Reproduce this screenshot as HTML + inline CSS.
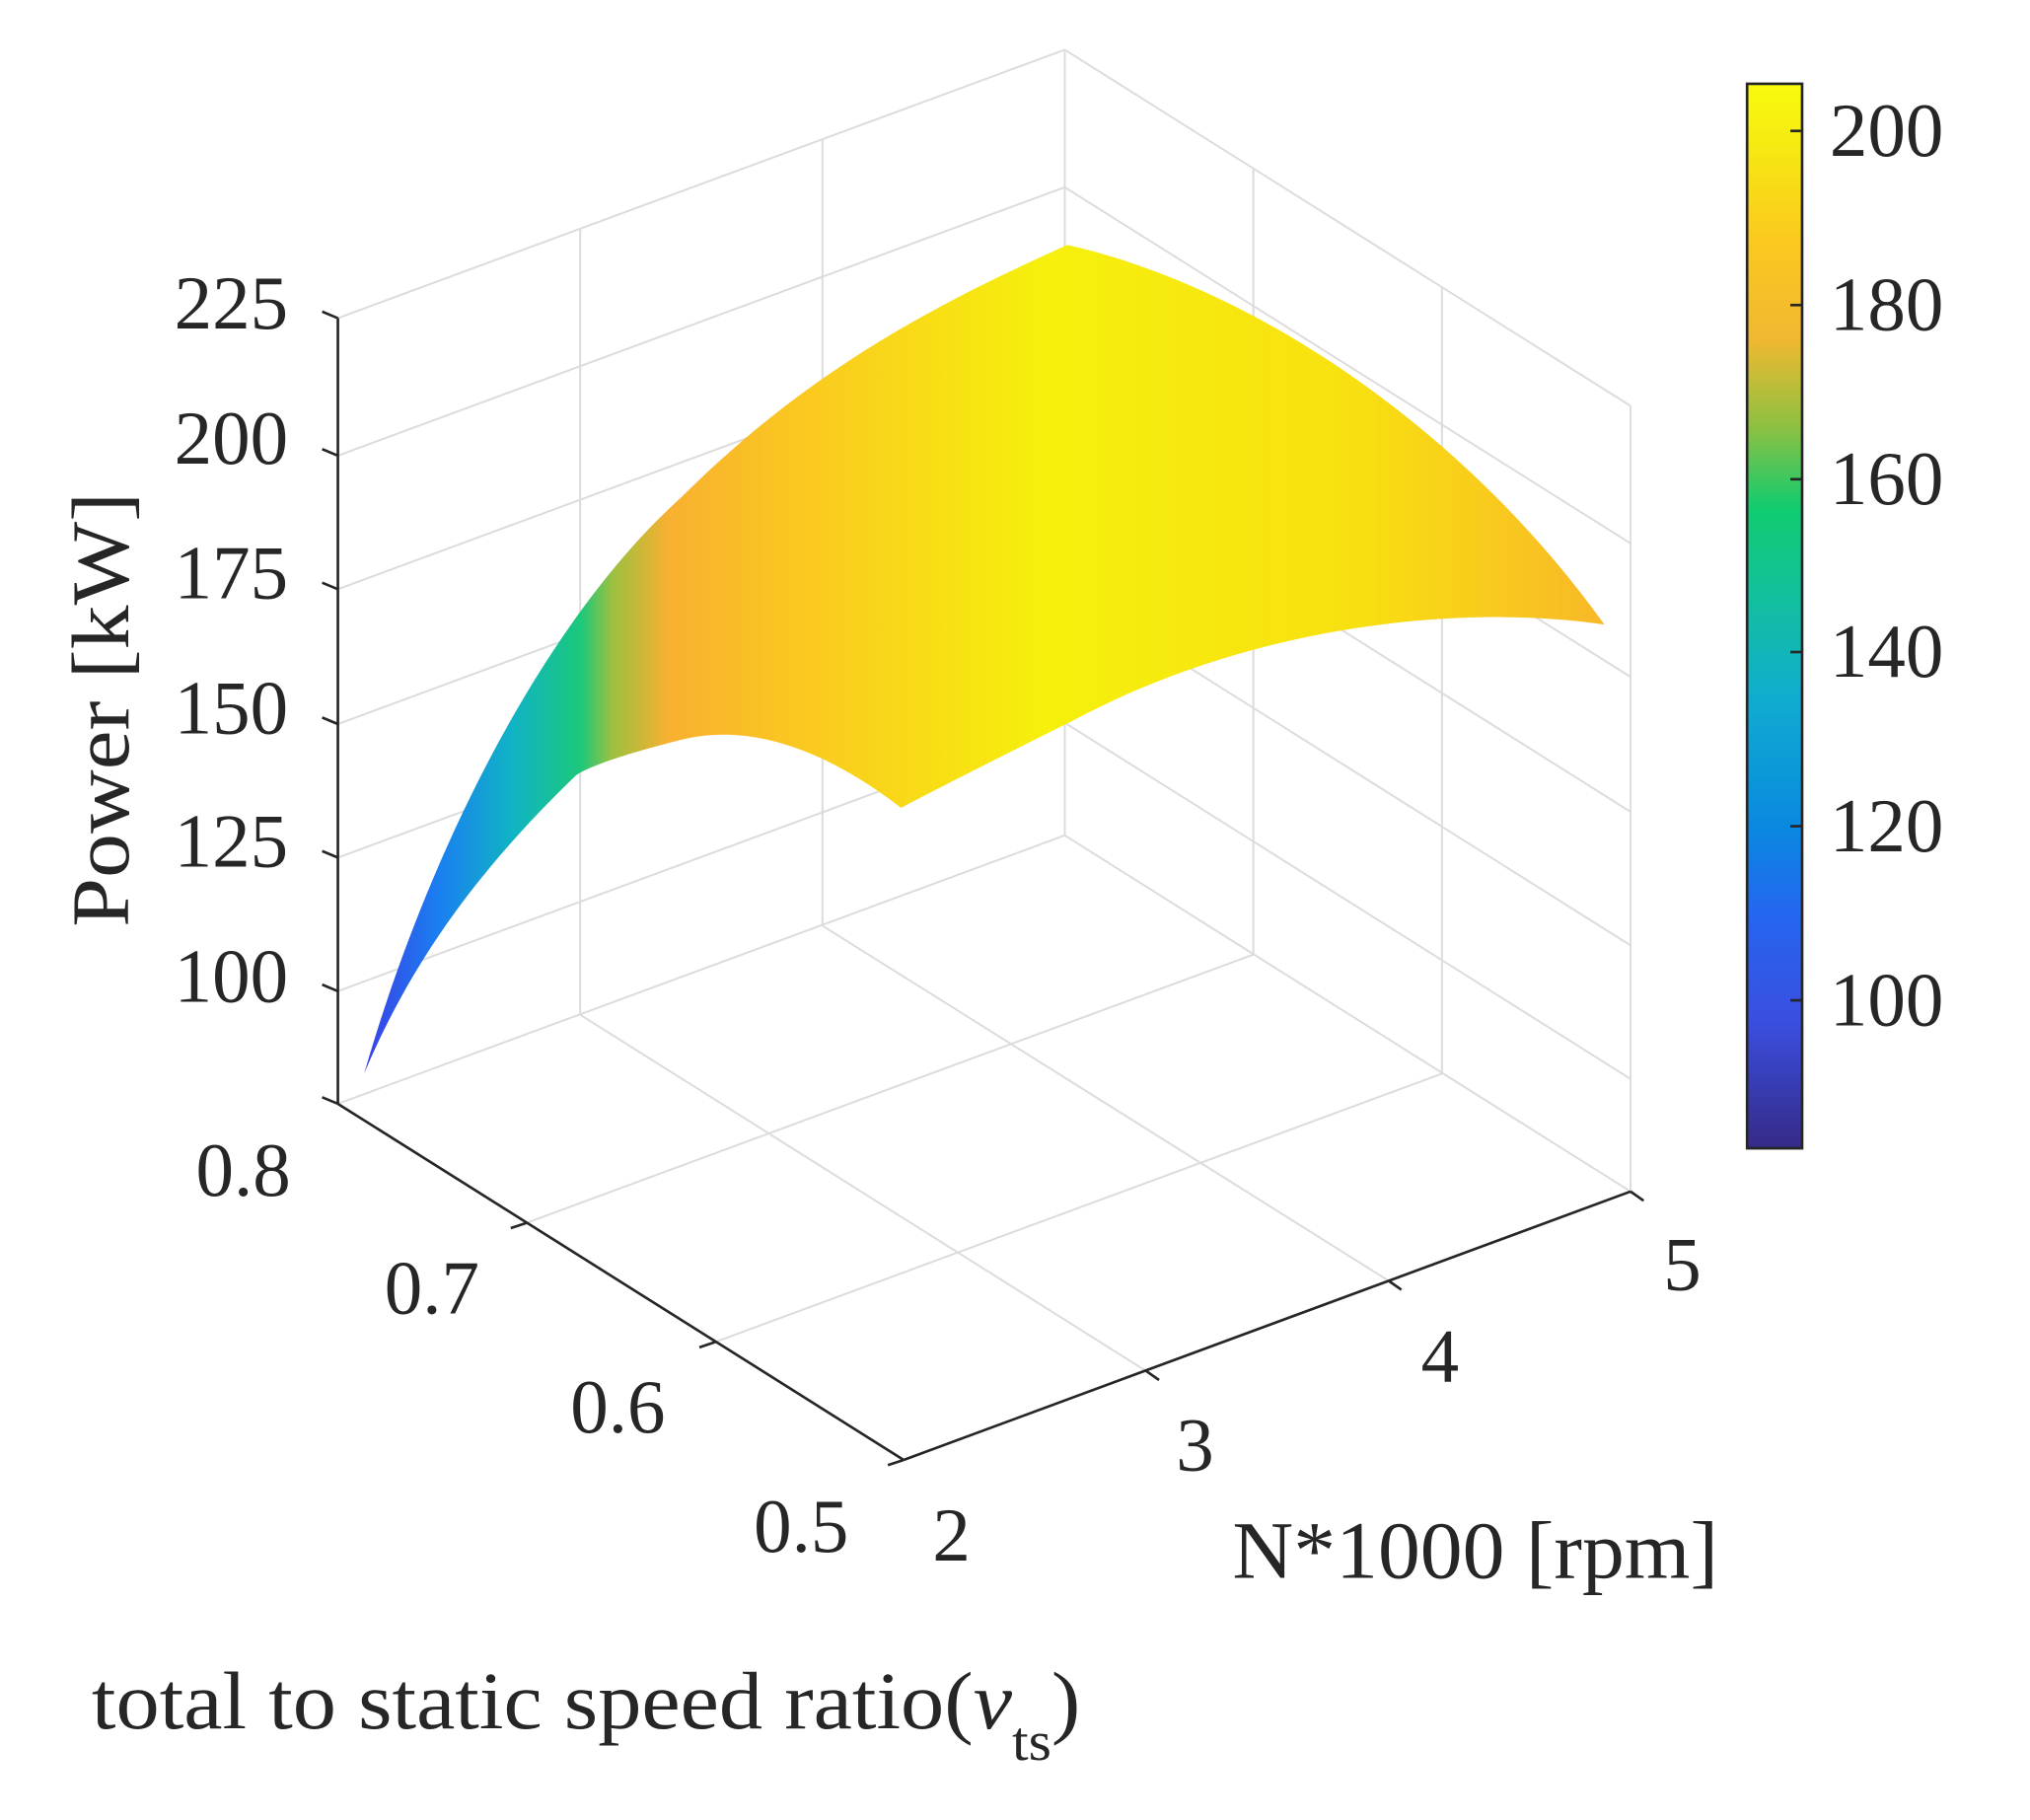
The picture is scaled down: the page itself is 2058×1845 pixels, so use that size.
<!DOCTYPE html>
<html><head><meta charset="utf-8"><style>
html,body{margin:0;padding:0;background:#fff;}
svg{display:block;}
text{font-family:"Liberation Serif",serif;fill:#262626;}
</style></head><body>
<svg width="2058" height="1845" viewBox="0 0 1550 1390" preserveAspectRatio="none" xmlns="http://www.w3.org/2000/svg">
<defs>
<linearGradient id="sg" x1="278" y1="0" x2="1225" y2="0" gradientUnits="userSpaceOnUse">
<stop offset="0" stop-color="#3b3fe6"/>
<stop offset="0.06" stop-color="#1a7ff0"/>
<stop offset="0.12" stop-color="#10b4c4"/>
<stop offset="0.175" stop-color="#1cc87a"/>
<stop offset="0.2" stop-color="#9cc040"/>
<stop offset="0.245" stop-color="#f8b030"/>
<stop offset="0.35" stop-color="#fac820"/>
<stop offset="0.55" stop-color="#f6f00c"/>
<stop offset="0.8" stop-color="#f8e010"/>
<stop offset="1" stop-color="#f8b828"/>
</linearGradient>
<linearGradient id="cb" x1="0" y1="877" x2="0" y2="64" gradientUnits="userSpaceOnUse">
<stop offset="0" stop-color="#352a87"/>
<stop offset="0.12" stop-color="#3a4fe0"/>
<stop offset="0.22" stop-color="#2466f0"/>
<stop offset="0.3" stop-color="#0a88e0"/>
<stop offset="0.42" stop-color="#10acd0"/>
<stop offset="0.52" stop-color="#12c09c"/>
<stop offset="0.6" stop-color="#10cc70"/>
<stop offset="0.68" stop-color="#90c040"/>
<stop offset="0.76" stop-color="#f0b830"/>
<stop offset="0.85" stop-color="#fbc820"/>
<stop offset="0.95" stop-color="#f6ec10"/>
<stop offset="1" stop-color="#f9fb0e"/>
</linearGradient>
</defs>
<g stroke="#dcdcdc" stroke-width="1.5" fill="none">
<line x1="258" y1="243" x2="813" y2="38"/>
<line x1="258" y1="348" x2="813" y2="143"/>
<line x1="258" y1="450" x2="813" y2="245"/>
<line x1="258" y1="553" x2="813" y2="348"/>
<line x1="258" y1="655" x2="813" y2="450"/>
<line x1="258" y1="757" x2="813" y2="552"/>
<line x1="258" y1="843" x2="813" y2="638"/>
<line x1="813" y1="38" x2="1245" y2="310"/>
<line x1="813" y1="143" x2="1245" y2="415"/>
<line x1="813" y1="245" x2="1245" y2="517"/>
<line x1="813" y1="348" x2="1245" y2="620"/>
<line x1="813" y1="450" x2="1245" y2="722"/>
<line x1="813" y1="552" x2="1245" y2="824"/>
<line x1="813" y1="638" x2="1245" y2="910"/>
<line x1="813" y1="38" x2="813" y2="638"/>
<line x1="443" y1="175" x2="443" y2="775"/>
<line x1="628" y1="107" x2="628" y2="707"/>
<line x1="957" y1="129" x2="957" y2="729"/>
<line x1="1101" y1="220" x2="1101" y2="820"/>
<line x1="1245" y1="310" x2="1245" y2="910"/>
<line x1="443" y1="775" x2="875" y2="1047"/>
<line x1="628" y1="707" x2="1060" y2="978"/>
<line x1="402" y1="934" x2="957" y2="729"/>
<line x1="546" y1="1025" x2="1101" y2="820"/>
</g>
<path d="M278,820 C330,640 420,470 520,380 C620,280 720,230 815,187 C960,220 1120,330 1225,477 C1110,460 950,480 820,550 C760,580 720,600 688,617 C640,580 580,550 520,565 C480,575 450,585 440,592 C380,650 320,720 278,820 Z" fill="url(#sg)"/>
<g stroke="#262626" stroke-width="2" fill="none">
<line x1="258" y1="243" x2="258" y2="843"/>
<line x1="258" y1="843" x2="690" y2="1115"/>
<line x1="690" y1="1115" x2="1245" y2="910"/>
<line x1="258" y1="243" x2="246" y2="238"/>
<line x1="258" y1="348" x2="246" y2="343"/>
<line x1="258" y1="450" x2="246" y2="445"/>
<line x1="258" y1="553" x2="246" y2="548"/>
<line x1="258" y1="655" x2="246" y2="650"/>
<line x1="258" y1="757" x2="246" y2="752"/>
<line x1="258" y1="843" x2="246" y2="838"/>
<line x1="402" y1="934" x2="390" y2="938"/>
<line x1="546" y1="1025" x2="534" y2="1029"/>
<line x1="690" y1="1115" x2="678" y2="1119"/>
<line x1="875" y1="1047" x2="885" y2="1054"/>
<line x1="1060" y1="978" x2="1070" y2="985"/>
<line x1="1245" y1="910" x2="1255" y2="917"/>
</g>
<g font-size="58" text-anchor="end">
<text x="220" y="251">225</text>
<text x="220" y="354">200</text>
<text x="220" y="457">175</text>
<text x="220" y="560">150</text>
<text x="220" y="662">125</text>
<text x="220" y="765">100</text>
<text x="222" y="913">0.8</text>
<text x="366" y="1003">0.7</text>
<text x="508" y="1094">0.6</text>
<text x="648" y="1185">0.5</text>
</g>
<g font-size="58">
<text x="712" y="1192">2</text>
<text x="898" y="1123">3</text>
<text x="1085" y="1055">4</text>
<text x="1270" y="985">5</text>
</g>
<text x="0" y="0" font-size="62" textLength="332" lengthAdjust="spacingAndGlyphs" text-anchor="middle" transform="translate(98,542) rotate(-90)">Power [kW]</text>
<text x="941" y="1205" font-size="62" textLength="371" lengthAdjust="spacingAndGlyphs">N*1000 [rpm]</text>
<text x="70" y="1320" font-size="62" textLength="755" lengthAdjust="spacingAndGlyphs">total to static speed ratio(<tspan font-style="italic">ν</tspan><tspan font-size="42" dy="24">ts</tspan><tspan dy="-24">)</tspan></text>
<rect x="1334" y="64" width="42" height="813" fill="url(#cb)" stroke="#262626" stroke-width="2"/>
<g stroke="#262626" stroke-width="2">
<line x1="1367" y1="100" x2="1376" y2="100"/>
<line x1="1367" y1="233" x2="1376" y2="233"/>
<line x1="1367" y1="366" x2="1376" y2="366"/>
<line x1="1367" y1="498" x2="1376" y2="498"/>
<line x1="1367" y1="631" x2="1376" y2="631"/>
<line x1="1367" y1="764" x2="1376" y2="764"/>
</g>
<g font-size="58">
<text x="1397" y="119">200</text>
<text x="1397" y="252">180</text>
<text x="1397" y="385">160</text>
<text x="1397" y="517">140</text>
<text x="1397" y="650">120</text>
<text x="1397" y="783">100</text>
</g>
</svg>
</body></html>
